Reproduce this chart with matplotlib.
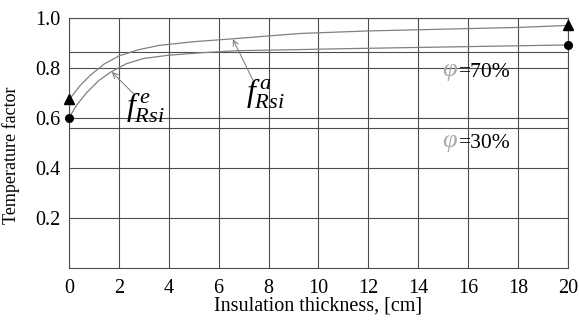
import matplotlib
matplotlib.use('Agg')
import matplotlib.pyplot as plt

plt.rcParams['font.family'] = ['Liberation Serif', 'DejaVu Serif']
plt.rcParams['mathtext.fontset'] = 'custom'
plt.rcParams['mathtext.rm'] = 'Liberation Serif'
plt.rcParams['mathtext.it'] = 'Liberation Serif:italic'

# curve values
x_a = [0, 0.1, 0.45, 0.85, 1.4, 2.0, 2.8, 3.6, 5.0, 6.5, 8.0, 9.3, 12, 15, 18, 20]
f_a = [0.676, 0.685, 0.73, 0.77, 0.815, 0.848, 0.873, 0.89, 0.905, 0.916, 0.928, 0.938, 0.948, 0.955, 0.962, 0.970]
x_e = [0, 0.3, 0.7, 1.2, 1.7, 2.3, 3.0, 4.0, 5.2, 6.7, 8.5, 11, 14, 17, 20]
f_e = [0.60, 0.65, 0.70, 0.75, 0.785, 0.817, 0.838, 0.851, 0.860, 0.869, 0.872, 0.877, 0.882, 0.887, 0.892]
x_ticks = [0, 2, 4, 6, 8, 10, 12, 14, 16, 18, 20]
y_ticks = [0.2, 0.4, 0.6, 0.8, 1.0]
crit_lines = [0.862, 0.56]

fig = plt.figure(figsize=(5.79, 3.2), dpi=100)
ax = fig.add_axes([0.119, 0.162, 0.862, 0.782])

grid_c = '#4d4d4d'
for xv in x_ticks:
    ax.axvline(xv, color=grid_c, lw=0.8, zorder=1)
for yv in y_ticks + crit_lines:
    ax.axhline(yv, color=grid_c, lw=0.8, zorder=1)

ax.plot(x_a, f_a, color='#808080', lw=0.9, zorder=2)
ax.plot(x_e, f_e, color='#808080', lw=0.9, zorder=2)
ax.plot([x_a[0], x_a[-1]], [f_a[0], f_a[-1]], '^', color='black', ms=7, zorder=3, clip_on=False)
ax.plot([x_e[0], x_e[-1]], [f_e[0], f_e[-1]], 'o', color='black', ms=5.5, zorder=3, clip_on=False)

ax.set_xlim(0, 20)
ax.set_ylim(0, 1.0)
ax.set_xticks(x_ticks)
ax.set_yticks(y_ticks)
ax.set_yticklabels(['0.2', '0.4', '0.6', '0.8', '1.0'])
ax.tick_params(labelsize=14.5, length=0, pad=6)
ax.tick_params(axis='x', pad=8)
for s in ax.spines.values():
    s.set_color(grid_c)
    s.set_linewidth(0.8)

ax.set_xlabel('Insulation thickness, [cm]', fontsize=14.5, labelpad=-1)
ax.set_ylabel('Temperature factor', fontsize=13)
ax.yaxis.set_label_coords(-0.098, 0.452)

arrow = dict(arrowstyle='->', color='#777777', lw=0.7, shrinkA=0, shrinkB=0)
ax.annotate('', xy=(1.72, 0.784), xytext=(2.64, 0.692), arrowprops=arrow)
ax.annotate('', xy=(6.57, 0.915), xytext=(7.37, 0.752), arrowprops=arrow)
ax.text(2.3, 0.64, r'$f^{\,e}_{Rsi}$', fontsize=23, ha='left', va='center')
ax.text(7.1, 0.696, r'$f^{\,a}_{Rsi}$', fontsize=23, ha='left', va='center')

ax.text(14.95, 0.782, r'$\varphi$', fontsize=19, color='#aaaaaa', ha='left', va='center')
ax.text(15.63, 0.78, '=70%', fontsize=15.5, color='black', ha='left', va='center')
ax.text(14.95, 0.502, r'$\varphi$', fontsize=19, color='#aaaaaa', ha='left', va='center')
ax.text(15.63, 0.50, '=30%', fontsize=15.5, color='black', ha='left', va='center')

fig.savefig('out.png', dpi=100)
